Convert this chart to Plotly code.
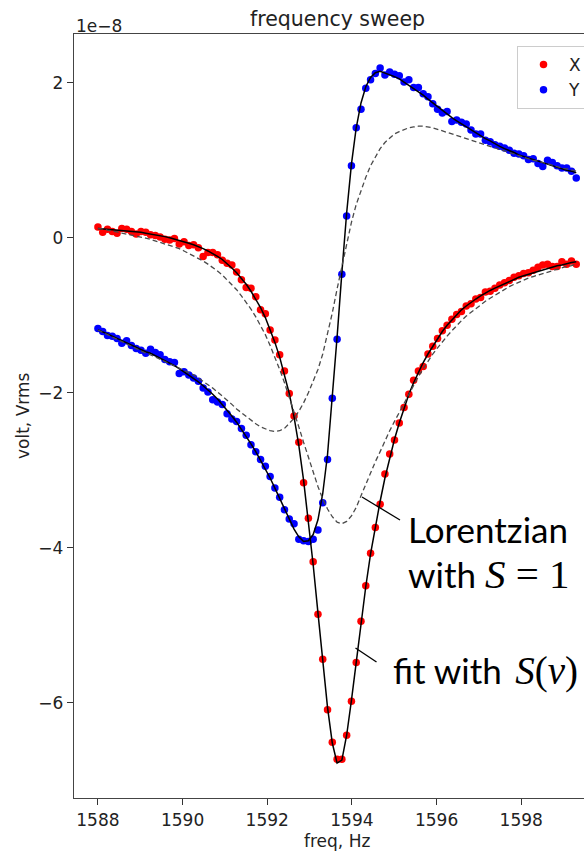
import plotly.graph_objects as go

# ---------------- data (voltages in units of 1e-8 Vrms) ----------------
freq = [1588.000, 1588.113, 1588.226, 1588.339, 1588.452, 1588.565, 1588.678, 1588.791, 1588.904, 1589.017,
        1589.130, 1589.243, 1589.356, 1589.469, 1589.582, 1589.695, 1589.808, 1589.921, 1590.034, 1590.147,
        1590.260, 1590.373, 1590.486, 1590.599, 1590.712, 1590.825, 1590.938, 1591.051, 1591.164, 1591.277,
        1591.390, 1591.503, 1591.616, 1591.729, 1591.842, 1591.955, 1592.068, 1592.181, 1592.294, 1592.407,
        1592.520, 1592.633, 1592.746, 1592.859, 1592.972, 1593.085, 1593.198, 1593.311, 1593.424, 1593.537,
        1593.650, 1593.763, 1593.876, 1593.989, 1594.102, 1594.215, 1594.328, 1594.441, 1594.554, 1594.667,
        1594.780, 1594.893, 1595.006, 1595.119, 1595.232, 1595.345, 1595.458, 1595.571, 1595.684, 1595.797,
        1595.910, 1596.023, 1596.136, 1596.249, 1596.362, 1596.475, 1596.588, 1596.701, 1596.814, 1596.927,
        1597.040, 1597.153, 1597.266, 1597.379, 1597.492, 1597.605, 1597.718, 1597.831, 1597.944, 1598.057,
        1598.170, 1598.283, 1598.396, 1598.509, 1598.622, 1598.735, 1598.848, 1598.961, 1599.074, 1599.187,
        1599.300]

x_data = [0.14, 0.07, 0.11, 0.08, 0.06, 0.12, 0.11, 0.08, 0.05, 0.08,
          0.07, 0.04, 0.03, 0.01, -0.02, -0.03, -0.01, -0.08, -0.05, -0.10,
          -0.09, -0.13, -0.24, -0.19, -0.19, -0.22, -0.29, -0.33, -0.35, -0.44,
          -0.54, -0.64, -0.65, -0.76, -0.93, -0.98, -1.19, -1.32, -1.51, -1.72,
          -2.01, -2.30, -2.64, -3.16, -3.62, -4.18, -4.86, -5.44, -6.09, -6.51,
          -6.73, -6.73, -6.42, -5.98, -5.48, -4.95, -4.49, -4.07, -3.74, -3.44,
          -3.05, -2.79, -2.61, -2.39, -2.19, -2.02, -1.84, -1.72, -1.66, -1.50,
          -1.40, -1.30, -1.20, -1.13, -1.05, -0.99, -0.95, -0.88, -0.85, -0.79,
          -0.77, -0.70, -0.69, -0.65, -0.61, -0.58, -0.55, -0.51, -0.49, -0.46,
          -0.45, -0.42, -0.38, -0.35, -0.34, -0.37, -0.37, -0.31, -0.34, -0.30,
          -0.34]

y_data = [-1.17, -1.21, -1.26, -1.27, -1.30, -1.36, -1.33, -1.39, -1.43, -1.45,
          -1.49, -1.44, -1.48, -1.51, -1.57, -1.60, -1.61, -1.75, -1.73, -1.77,
          -1.81, -1.85, -1.94, -1.99, -2.09, -2.12, -2.15, -2.27, -2.34, -2.37,
          -2.46, -2.55, -2.67, -2.76, -2.86, -2.95, -3.08, -3.23, -3.35, -3.51,
          -3.63, -3.69, -3.89, -3.91, -3.92, -3.89, -3.77, -3.42, -2.86, -2.07,
          -1.31, -0.47, 0.28, 0.93, 1.42, 1.66, 1.93, 2.04, 2.12, 2.19,
          2.10, 2.14, 2.11, 2.09, 2.01, 2.04, 1.94, 1.94, 1.86, 1.82,
          1.73, 1.66, 1.61, 1.63, 1.50, 1.52, 1.49, 1.47, 1.39, 1.34,
          1.34, 1.26, 1.24, 1.20, 1.18, 1.16, 1.13, 1.09, 1.08, 1.06,
          1.01, 1.02, 0.96, 0.92, 1.00, 0.97, 0.93, 0.90, 0.90, 0.86,
          0.77]

fit_x = [0.12, 0.115, 0.11, 0.105, 0.10, 0.095, 0.09, 0.085, 0.08, 0.07,
         0.06, 0.05, 0.04, 0.03, 0.015, 0.0, -0.015, -0.03, -0.05, -0.07,
         -0.09, -0.11, -0.14, -0.17, -0.20, -0.24, -0.28, -0.33, -0.39, -0.45,
         -0.52, -0.60, -0.69, -0.79, -0.90, -1.03, -1.18, -1.35, -1.54, -1.76,
         -2.01, -2.31, -2.68, -3.13, -3.64, -4.22, -4.84, -5.46, -6.06, -6.52,
         -6.78, -6.74, -6.42, -5.97, -5.47, -4.96, -4.50, -4.08, -3.72, -3.40,
         -3.10, -2.84, -2.60, -2.39, -2.20, -2.02, -1.87, -1.73, -1.61, -1.50,
         -1.40, -1.30, -1.21, -1.13, -1.06, -0.99, -0.93, -0.88, -0.83, -0.79,
         -0.75, -0.71, -0.68, -0.65, -0.62, -0.59, -0.56, -0.53, -0.51, -0.49,
         -0.47, -0.45, -0.43, -0.41, -0.39, -0.37, -0.36, -0.35, -0.33, -0.32,
         -0.31]

fit_y = [-1.19, -1.21, -1.24, -1.27, -1.30, -1.32, -1.35, -1.38, -1.41, -1.44,
         -1.47, -1.49, -1.52, -1.55, -1.58, -1.62, -1.65, -1.69, -1.73, -1.77,
         -1.81, -1.86, -1.91, -1.96, -2.02, -2.08, -2.15, -2.22, -2.30, -2.38,
         -2.47, -2.56, -2.66, -2.76, -2.87, -2.98, -3.10, -3.23, -3.36, -3.50,
         -3.63, -3.76, -3.86, -3.92, -3.91, -3.83, -3.64, -3.30, -2.80, -2.08,
         -1.28, -0.45, 0.32, 0.95, 1.42, 1.74, 1.95, 2.07, 2.13, 2.15,
         2.13, 2.11, 2.08, 2.05, 2.01, 1.97, 1.93, 1.89, 1.84, 1.79,
         1.74, 1.69, 1.64, 1.60, 1.55, 1.51, 1.47, 1.43, 1.39, 1.35,
         1.31, 1.28, 1.25, 1.21, 1.18, 1.15, 1.13, 1.10, 1.07, 1.05,
         1.02, 1.00, 0.98, 0.96, 0.94, 0.92, 0.91, 0.89, 0.87, 0.86,
         0.84]

lor_x = [0.12, 0.115, 0.10, 0.09, 0.075, 0.06, 0.05, 0.035, 0.02, 0.01,
         -0.005, -0.02, -0.04, -0.06, -0.08, -0.10, -0.12, -0.14, -0.17, -0.20,
         -0.23, -0.26, -0.30, -0.34, -0.38, -0.43, -0.48, -0.54, -0.60, -0.67,
         -0.75, -0.83, -0.92, -1.02, -1.13, -1.25, -1.39, -1.54, -1.70, -1.87,
         -2.05, -2.24, -2.44, -2.64, -2.84, -3.03, -3.21, -3.37, -3.50, -3.60,
         -3.67, -3.69, -3.66, -3.59, -3.48, -3.33, -3.18, -3.03, -2.89, -2.76,
         -2.62, -2.49, -2.37, -2.25, -2.13, -2.01, -1.90, -1.79, -1.69, -1.59,
         -1.50, -1.42, -1.34, -1.27, -1.20, -1.13, -1.07, -1.01, -0.96, -0.91,
         -0.86, -0.82, -0.78, -0.74, -0.70, -0.67, -0.63, -0.60, -0.57, -0.55,
         -0.52, -0.50, -0.48, -0.46, -0.44, -0.42, -0.40, -0.39, -0.37, -0.36,
         -0.34]

lor_y = [-1.19, -1.22, -1.25, -1.28, -1.31, -1.34, -1.37, -1.40, -1.43, -1.46,
         -1.49, -1.51, -1.54, -1.56, -1.59, -1.62, -1.65, -1.68, -1.71, -1.74,
         -1.77, -1.81, -1.85, -1.89, -1.94, -1.99, -2.04, -2.09, -2.15, -2.21,
         -2.26, -2.31, -2.36, -2.40, -2.44, -2.47, -2.49, -2.50, -2.49, -2.46,
         -2.40, -2.33, -2.24, -2.13, -2.00, -1.86, -1.70, -1.50, -1.25, -0.97,
         -0.66, -0.36, -0.06, 0.20, 0.43, 0.62, 0.78, 0.93, 1.05, 1.15,
         1.23, 1.29, 1.34, 1.37, 1.40, 1.42, 1.43, 1.44, 1.44, 1.43,
         1.42, 1.40, 1.38, 1.36, 1.34, 1.32, 1.30, 1.28, 1.26, 1.24,
         1.22, 1.20, 1.18, 1.16, 1.14, 1.12, 1.10, 1.08, 1.06, 1.04,
         1.02, 1.00, 0.99, 0.97, 0.95, 0.93, 0.92, 0.90, 0.89, 0.87,
         0.86]

x_ticks = [1588, 1590, 1592, 1594, 1596, 1598]
y_ticks = [-6, -4, -2, 0, 2]
y_tick_text = ["\u22126", "\u22124", "\u22122", "0", "2"]

# ---------------- layout geometry (pixels) ----------------
W, H = 584, 853
L, R, T, B = 74, 584, 34, 798


def pxx(p):
    return (p - L) / (R - L)


def pxy(p):
    return (B - p) / (B - T)


TICK_FONT = dict(family="DejaVu Sans", size=17, color="#222222")
ANN_FONT = dict(family="Lato", size=35, color="#000000")
MATH1 = "<span style='font-family:Liberation Serif;font-size:41px'>"
MATH2 = "<span style='font-family:Liberation Serif;font-size:39px'>"

fig = go.Figure()
fig.add_trace(go.Scatter(x=freq, y=x_data, mode="markers", name="X",
                         marker=dict(color="#ff0000", size=7.5, line=dict(width=0))))
fig.add_trace(go.Scatter(x=freq, y=y_data, mode="markers", name="Y",
                         marker=dict(color="#0000ff", size=7.5, line=dict(width=0))))
for arr in (fit_x, fit_y):
    fig.add_trace(go.Scatter(x=freq, y=arr, mode="lines", showlegend=False,
                             line=dict(color="#000000", width=1.5), hoverinfo="skip"))
for arr in (lor_x, lor_y):
    fig.add_trace(go.Scatter(x=freq, y=arr, mode="lines", showlegend=False,
                             line=dict(color="#4a4a4a", width=1.3, dash="5px,3px"),
                             hoverinfo="skip"))

fig.update_xaxes(range=[1587.435, 1599.483], tickvals=x_ticks,
                 ticks="outside", ticklen=6, tickwidth=1.3, tickcolor="#333333",
                 showline=True, linecolor="#444444", linewidth=1.4, mirror=True,
                 showgrid=False, zeroline=False, tickfont=TICK_FONT)
fig.update_yaxes(range=[-7.23, 2.63], tickvals=y_ticks, ticktext=y_tick_text,
                 ticks="outside", ticklen=6, tickwidth=1.3, tickcolor="#333333",
                 showline=True, linecolor="#444444", linewidth=1.4, mirror=False,
                 showgrid=False, zeroline=False, tickfont=TICK_FONT)

annotations = [
    dict(text="frequency sweep", x=pxx(337.5), y=pxy(19), xanchor="center", yanchor="middle",
         font=dict(family="DejaVu Sans", size=20.5, color="#222222")),
    dict(text="1e\u22128", x=pxx(74), y=pxy(26), xanchor="left", yanchor="middle",
         font=TICK_FONT),
    dict(text="freq, Hz", x=pxx(337), y=pxy(841), xanchor="center", yanchor="middle",
         font=TICK_FONT),
    dict(text="volt, Vrms", x=pxx(23), y=pxy(416), xanchor="center", yanchor="middle",
         textangle=-90, font=TICK_FONT),
    dict(text="Lorentzian", x=pxx(406), y=pxy(529), xanchor="left", yanchor="middle",
         font=ANN_FONT),
    dict(text="with " + MATH1 + "<i>S</i>\u2005=\u20051</span>",
         x=pxx(406), y=pxy(574), xanchor="left", yanchor="middle", font=ANN_FONT),
    dict(text="fit with\u2009 " + MATH2 + "<i>S</i>(<i>v</i>)</span>",
         x=pxx(391), y=pxy(671), xanchor="left", yanchor="middle", font=ANN_FONT),
]
for a in annotations:
    a.update(xref="paper", yref="paper", showarrow=False)

shapes = [
    dict(type="line", xref="paper", yref="paper", x0=pxx(362), y0=pxy(497), x1=pxx(400), y1=pxy(520),
         line=dict(color="#000000", width=1.3)),
    dict(type="line", xref="paper", yref="paper", x0=pxx(355.5), y0=pxy(648), x1=pxx(376.5), y1=pxy(662),
         line=dict(color="#000000", width=1.3)),
]

fig.update_layout(
    width=W, height=H,
    margin=dict(l=L, r=W - R, t=T, b=H - B, pad=0, autoexpand=False),
    plot_bgcolor="white", paper_bgcolor="white",
    annotations=annotations, shapes=shapes,
    showlegend=True,
    legend=dict(x=pxx(517), y=pxy(46), xanchor="left", yanchor="top",
                bgcolor="rgba(255,255,255,0.8)", bordercolor="#cccccc", borderwidth=1,
                font=dict(family="DejaVu Sans", size=17, color="#222222"),
                itemwidth=41, tracegroupgap=0),
)

fig.write_html("out.html")
